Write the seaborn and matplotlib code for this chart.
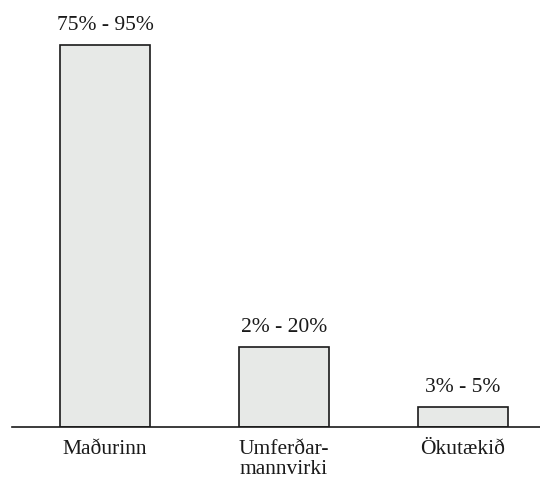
import matplotlib
matplotlib.use("Agg")
import matplotlib.pyplot as plt
import seaborn as sns
import pandas as pd

categories = ["Maðurinn", "Umferðar-\nmannvirki", "Ökutækið"]
upper_share = [95, 20, 5]
range_labels = ["75% - 95%", "2% - 20%", "3% - 5%"]

df = pd.DataFrame({"factor": categories, "share": upper_share})

sns.set_style("white")
plt.rcParams["font.family"] = ["Liberation Serif", "DejaVu Serif"]

fig = plt.figure(figsize=(5.4, 4.82), dpi=100)
ax = fig.add_axes([0.022, 0.114, 0.978, 0.886])

sns.barplot(data=df, x="factor", y="share", ax=ax, width=0.503,
            color="#e7e9e7", edgecolor="#1a1a1a", linewidth=1.2,
            saturation=1)

ax.bar_label(ax.containers[0], labels=range_labels, padding=7,
             fontsize=15.5, color="#1a1a1a")

ax.set_xlim(-0.52, 2.43)
ax.set_ylim(0, 106.2)
for side in ["top", "right", "left"]:
    ax.spines[side].set_visible(False)
ax.spines["bottom"].set_color("#1a1a1a")
ax.spines["bottom"].set_linewidth(1.2)
ax.set_yticks([])
ax.set_xlabel("")
ax.set_ylabel("")
ax.tick_params(axis="x", length=0, pad=9, labelsize=15.5, colors="#1a1a1a")
for t in ax.get_xticklabels():
    t.set_linespacing(1.1)
    t.set_verticalalignment("top")

fig.savefig("out.png", dpi=100, facecolor="white")
